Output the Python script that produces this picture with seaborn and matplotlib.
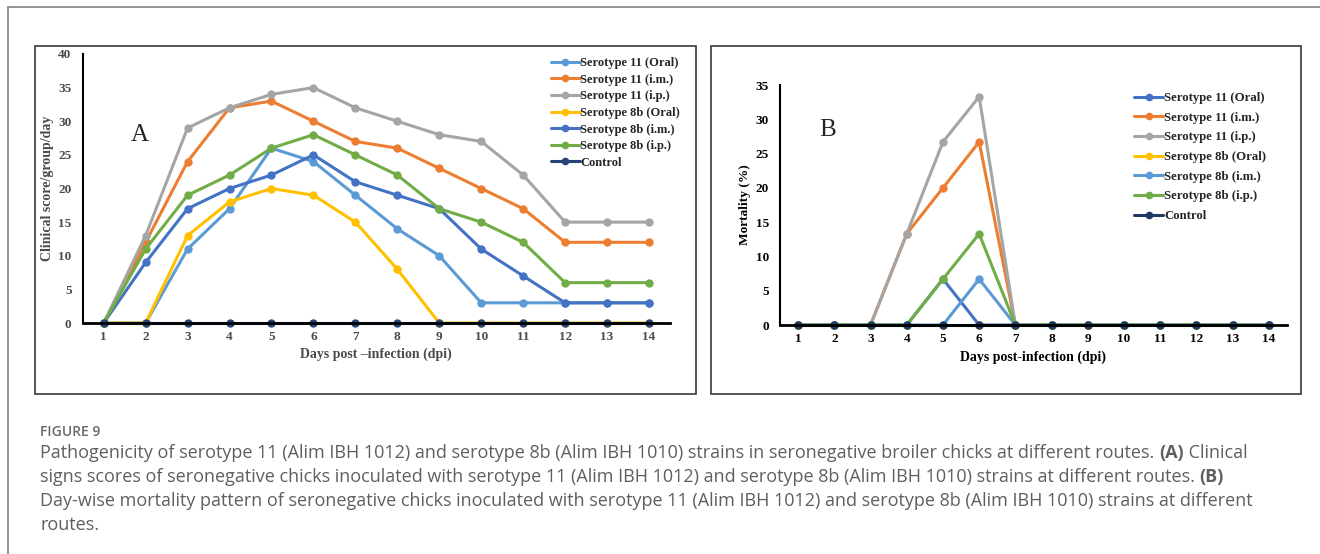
import numpy as np
import pandas as pd
import matplotlib
matplotlib.use("Agg")
import matplotlib.pyplot as plt
import seaborn as sns
from matplotlib.lines import Line2D
from matplotlib.patches import Rectangle

# ---- data ----
days = list(range(1, 15))

groups = ["Serotype 11 (Oral)", "Serotype 11 (i.m.)", "Serotype 11 (i.p.)",
          "Serotype 8b (Oral)", "Serotype 8b (i.m.)", "Serotype 8b (i.p.)", "Control"]

# panel A: clinical score/group/day
score_s11_oral = [0, 0, 11, 17, 26, 24, 19, 14, 10, 3, 3, 3, 3, 3]
score_s11_im = [0, 12, 24, 32, 33, 30, 27, 26, 23, 20, 17, 12, 12, 12]
score_s11_ip = [0, 13, 29, 32, 34, 35, 32, 30, 28, 27, 22, 15, 15, 15]
score_s8b_oral = [0, 0, 13, 18, 20, 19, 15, 8, 0, 0, 0, 0, 0, 0]
score_s8b_im = [0, 9, 17, 20, 22, 25, 21, 19, 17, 11, 7, 3, 3, 3]
score_s8b_ip = [0, 11, 19, 22, 26, 28, 25, 22, 17, 15, 12, 6, 6, 6]
score_control = [0] * 14

# panel B: mortality (%)
mort_s11_oral = [0, 0, 0, 0, 6.7, 0, 0, 0, 0, 0, 0, 0, 0, 0]
mort_s11_im = [0, 0, 0, 13.3, 20.0, 26.7, 0, 0, 0, 0, 0, 0, 0, 0]
mort_s11_ip = [0, 0, 0, 13.3, 26.7, 33.3, 0, 0, 0, 0, 0, 0, 0, 0]
mort_s8b_oral = [0] * 14
mort_s8b_im = [0, 0, 0, 0, 0, 6.7, 0, 0, 0, 0, 0, 0, 0, 0]
mort_s8b_ip = [0, 0, 0, 0, 6.7, 13.3, 0, 0, 0, 0, 0, 0, 0, 0]
mort_control = [0] * 14

colors_a = ["#5B9BD5", "#ED7D31", "#A5A5A5", "#FFC000", "#4472C4", "#70AD47", "#264478"]
colors_b = ["#4472C4", "#ED7D31", "#A5A5A5", "#FFC000", "#5B9BD5", "#70AD47", "#1F3864"]


def to_long(series):
    rows = []
    for g, vals in zip(groups, series):
        for d, v in zip(days, vals):
            rows.append({"day": d, "value": v, "group": g})
    return pd.DataFrame(rows)


df_a = to_long([score_s11_oral, score_s11_im, score_s11_ip, score_s8b_oral,
                score_s8b_im, score_s8b_ip, score_control])
df_b = to_long([mort_s11_oral, mort_s11_im, mort_s11_ip, mort_s8b_oral,
                mort_s8b_im, mort_s8b_ip, mort_control])

sns.set_style("white")
plt.rcParams["font.family"] = ["Liberation Serif", "DejaVu Serif"]

W, H = 1320, 554
fig = plt.figure(figsize=(W / 100, H / 100), dpi=100)


def fx(px):
    return px / W


def fy(py):
    return 1 - py / H


# outer frame (only left and top visible) and panel boxes
fig.add_artist(Line2D([fx(8), fx(8)], [fy(7), 0], color="#8a8a8a", lw=1.3))
fig.add_artist(Line2D([fx(8), 1], [fy(7), fy(7)], color="#8a8a8a", lw=1.3))
for x0, x1 in [(35, 696), (711, 1301)]:
    fig.add_artist(Rectangle((fx(x0), fy(394)), fx(x1 - x0), (394 - 46) / H,
                             fill=False, ec="#3a3a3a", lw=1.2))


def style_axis(ax, ymax, tick_color):
    ax.set_xlim(0.5, 14.5)
    ax.set_ylim(0, ymax)
    ax.set_yticks(np.arange(0, ymax + 1, 5))
    ax.set_xticks(days)
    ax.set_xticks(np.arange(1.5, 14, 1), minor=True)
    ax.tick_params(axis="x", which="major", length=0, pad=6)
    ax.tick_params(axis="x", which="minor", direction="inout", length=5, width=1.5, color="black")
    ax.tick_params(axis="y", direction="out", length=4, width=1.2, color="black", pad=4)
    for lab in ax.get_xticklabels() + ax.get_yticklabels():
        lab.set_fontweight("bold")
        lab.set_fontsize(9.5)
        lab.set_color(tick_color)
    for s in ["top", "right"]:
        ax.spines[s].set_visible(False)
    ax.spines["bottom"].set_linewidth(2)
    ax.spines["bottom"].set_color("black")
    ax.spines["left"].set_linewidth(1.5)
    ax.spines["left"].set_color("black")
    ax.set_facecolor("none")


# ---- panel A ----
axA = fig.add_axes([fx(82.7), fy(323), fx(670 - 82.7), (323 - 54) / H])
sns.lineplot(data=df_a, x="day", y="value", hue="group", hue_order=groups,
             palette=colors_a, marker="o", markersize=6, markeredgewidth=0,
             linewidth=2.2, ax=axA, legend=False, clip_on=False)
style_axis(axA, 40, "#4a4a4a")
axA.set_xlabel("Days post \u2013infection (dpi)", fontsize=10, fontweight="bold", color="#4a4a4a", labelpad=3)
axA.set_ylabel("Clinical score/group/day", fontsize=10, fontweight="bold", color="#4a4a4a", labelpad=3)
fig.text(fx(140), fy(135), "A", fontsize=18, ha="center", va="center")

handles_a = [Line2D([], [], color=c, lw=2.2, marker="o", ms=5.5, mew=0) for c in colors_a]
fig.legend(handles_a, groups, loc="upper left", bbox_to_anchor=(fx(551), fy(57)),
           frameon=False, handlelength=2.3, handletextpad=0.05,
           labelspacing=0.37, borderaxespad=0, borderpad=0,
           prop={"family": "Liberation Serif", "weight": "bold", "size": 9})

# ---- panel B ----
axB = fig.add_axes([fx(780), fy(325), fx(1287 - 780), (325 - 85) / H])
sns.lineplot(data=df_b, x="day", y="value", hue="group", hue_order=groups,
             palette=colors_b, marker="o", markersize=6, markeredgewidth=0,
             linewidth=2.2, ax=axB, legend=False, clip_on=False)
style_axis(axB, 35, "black")
axB.set_xlabel("Days post-infection (dpi)", fontsize=10, fontweight="bold", color="black", labelpad=4)
axB.set_ylabel("Mortality (%)", fontsize=9.6, fontweight="bold", color="black", labelpad=3)
fig.text(fx(828), fy(130), "B", fontsize=18, ha="center", va="center")

handles_b = [Line2D([], [], color=c, lw=2.2, marker="o", ms=5.5, mew=0) for c in colors_b]
fig.legend(handles_b, groups, loc="upper left", bbox_to_anchor=(fx(1134), fy(92)),
           frameon=False, handlelength=2.3, handletextpad=0.05,
           labelspacing=0.6, borderaxespad=0, borderpad=0,
           prop={"family": "Liberation Serif", "weight": "bold", "size": 9.2})

# ---- caption ----
cap_font = ["Open Sans", "DejaVu Sans"]
cap_color = "#5f5f5f"
fig.text(fx(40), fy(432), "FIGURE 9", fontsize=10, family=cap_font, color="#6a6a6a",
         fontweight="semibold", va="center")

caption_lines = [
    [("Pathogenicity of serotype 11 (Alim IBH 1012) and serotype 8b (Alim IBH 1010) strains in seronegative broiler chicks at different routes. ", "normal"),
     ("(A)", "bold"), (" Clinical", "normal")],
    [("signs scores of seronegative chicks inoculated with serotype 11 (Alim IBH 1012) and serotype 8b (Alim IBH 1010) strains at different routes. ", "normal"),
     ("(B)", "bold")],
    [("Day-wise mortality pattern of seronegative chicks inoculated with serotype 11 (Alim IBH 1012) and serotype 8b (Alim IBH 1010) strains at different", "normal")],
    [("routes.", "normal")],
]
line_y = [453, 477, 501, 525]

fig.canvas.draw()
renderer = fig.canvas.get_renderer()
for runs, yy in zip(caption_lines, line_y):
    x = 40
    for txt, wt in runs:
        t = fig.text(fx(x), fy(yy), txt, fontsize=13, family=cap_font, color=cap_color,
                     fontweight=wt, va="center")
        x += t.get_window_extent(renderer).width

fig.savefig("out.png", dpi=100)
